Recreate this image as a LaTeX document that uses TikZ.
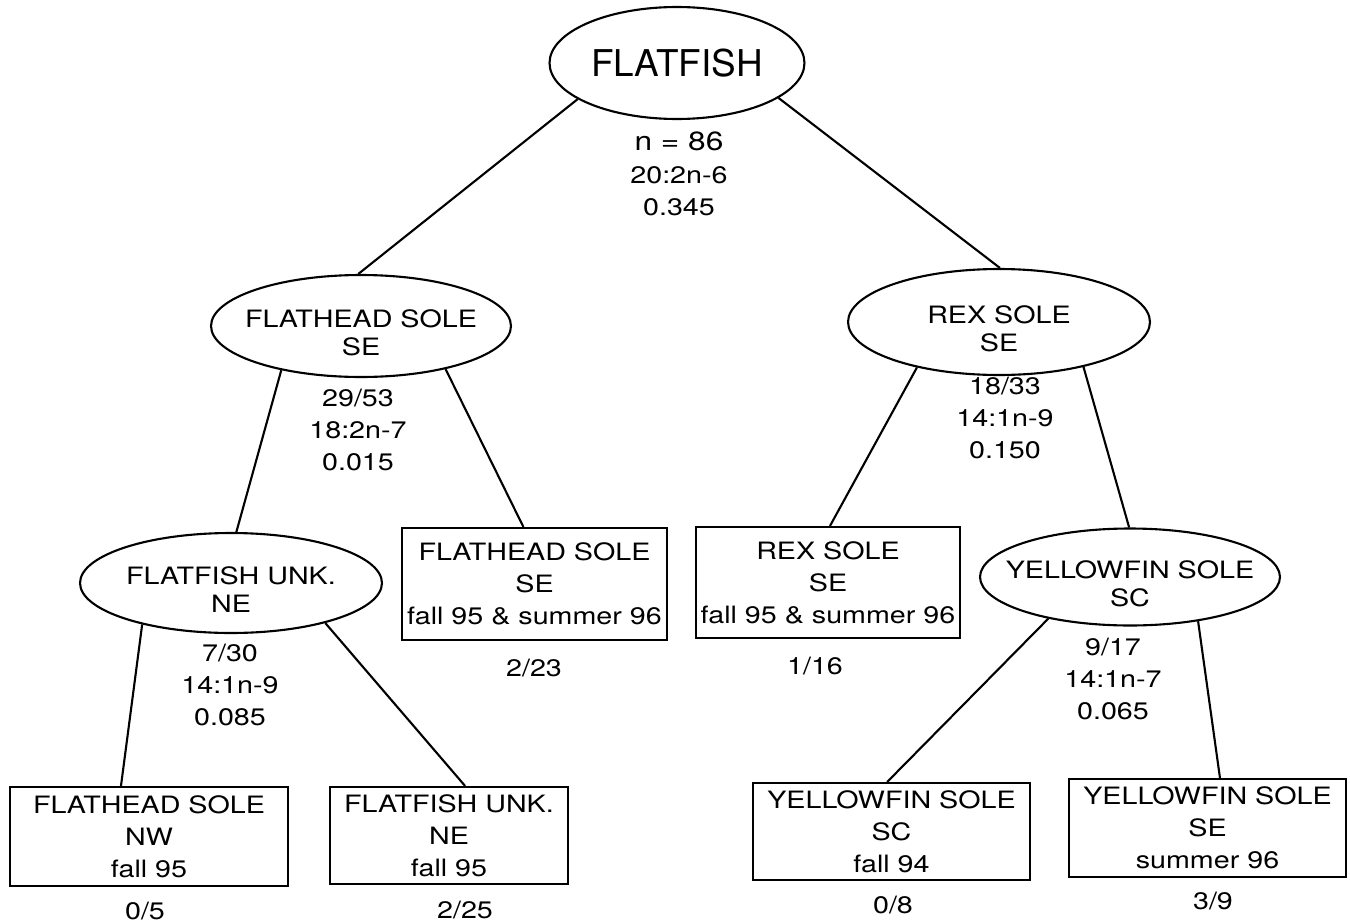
\documentclass[tikz,border=0pt]{standalone}
\usepackage{fontspec}
\setmainfont{TeX Gyre Heros}[FakeStretch=1.2]
\newfontfamily\rootfont{TeX Gyre Heros}
\usetikzlibrary{shapes.geometric}

\tikzset{
  splitnode/.style={ellipse, draw, line width=1.2pt, inner sep=0pt},
  splittext/.style={align=center, yshift=-0.14cm, font=\fontsize{13.6}{15.9}\selectfont},
  leafbox/.style={rectangle, draw, line width=1.2pt, inner sep=0pt, align=center,
                  font=\fontsize{13.6}{18.2}\selectfont},
  stat/.style={align=center, inner sep=0pt, font=\fontsize{13.6}{18.4}\selectfont},
  branch/.style={line width=1.2pt}
}

\begin{document}
\begin{tikzpicture}[x=0.02cm, y=-0.02cm]
  \useasboundingbox (0,0) rectangle (1350,923);

  % split nodes
  \node[splitnode, minimum width=5.1cm, minimum height=2.24cm,
        font=\rootfont\fontsize{21}{25}\selectfont] (root) at (677,63) {FLATFISH};
  \node[splitnode, minimum width=6cm, minimum height=2.04cm,
        label={[splittext]center:FLATHEAD SOLE\\SE}] (fhs) at (361,326) {};
  \node[splitnode, minimum width=6.04cm, minimum height=2.12cm,
        label={[splittext]center:REX SOLE\\SE}] (rex) at (999,322) {};
  \node[splitnode, minimum width=6.04cm, minimum height=2cm,
        label={[splittext]center:FLATFISH UNK.\\NE}] (unk) at (231,583) {};
  \node[splitnode, minimum width=6cm, minimum height=1.94cm,
        label={[splittext]center:YELLOWFIN SOLE\\SC}] (yfs) at (1130,577) {};

  % split statistics
  \node[stat] (rootstat) at (679,174) {{\fontsize{15}{18.4}\selectfont n = 86}\\20:2n-6\\0.345};
  \node[stat] (fhsstat) at (358,430) {29/53\\18:2n-7\\0.015};
  \node[stat] (rexstat) at (1005,418) {18/33\\14:1n-9\\0.150};
  \node[stat] (unkstat) at (230,685) {7/30\\14:1n-9\\0.085};
  \node[stat] (yfsstat) at (1113,679) {9/17\\14:1n-7\\0.065};

  % leaves
  \node[leafbox, minimum width=5.3cm, minimum height=2.24cm] (fhsbox) at (534.5,584)
        {FLATHEAD SOLE\\SE\\fall 95 \& summer 96};
  \node[leafbox, minimum width=5.28cm, minimum height=2.22cm] (rexbox) at (828,582.5)
        {REX SOLE\\SE\\fall 95 \& summer 96};
  \node[leafbox, minimum width=5.56cm, minimum height=1.98cm] (nwbox) at (149,836.5)
        {FLATHEAD SOLE\\NW\\fall 95};
  \node[leafbox, minimum width=4.76cm, minimum height=1.94cm] (nebox) at (449,835.5)
        {FLATFISH UNK.\\NE\\fall 95};
  \node[leafbox, minimum width=5.54cm, minimum height=1.94cm] (scbox) at (891.5,831.5)
        {YELLOWFIN SOLE\\SC\\fall 94};
  \node[leafbox, minimum width=5.54cm, minimum height=1.96cm] (sebox) at (1207.5,828)
        {YELLOWFIN SOLE\\SE\\summer 96};

  % leaf counts
  \node[stat] (fhscount) at (534,668) {2/23};
  \node[stat] (rexcount) at (815,666) {1/16};
  \node[stat] (nwcount) at (145,911) {0/5};
  \node[stat] (necount) at (465,910) {2/25};
  \node[stat] (sccount) at (893,905) {0/8};
  \node[stat] (secount) at (1213,901) {3/9};

  % branches
  \draw[branch] (root.200) -- (fhs.93);
  \draw[branch] (root.341) -- (rex.89);
  \draw[branch] (fhs.209) -- (unk.84);
  \draw[branch] (fhs.333) -- (fhsbox.101);
  \draw[branch] (rex.209) -- (rexbox.88);
  \draw[branch] (rex.332) -- (yfs.91);
  \draw[branch] (unk.205) -- (nwbox.119);
  \draw[branch] (unk.337) -- (nebox.72);
  \draw[branch] (yfs.207) -- (scbox.95);
  \draw[branch] (yfs.327) -- (sebox.76);
\end{tikzpicture}
\end{document}
